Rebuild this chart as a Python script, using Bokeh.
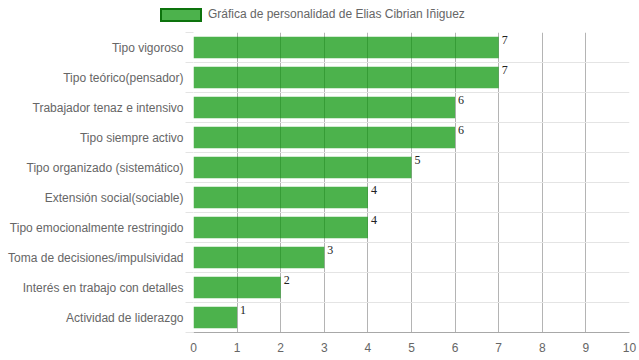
from bokeh.plotting import figure
from bokeh.layouts import column
from bokeh.models import FixedTicker, ColumnDataSource, Range1d, Div
from bokeh.core.properties import value
from bokeh.embed import file_html
from bokeh.resources import INLINE

categories = [
    "Tipo vigoroso",
    "Tipo teórico(pensador)",
    "Trabajador tenaz e intensivo",
    "Tipo siempre activo",
    "Tipo organizado (sistemático)",
    "Extensión social(sociable)",
    "Tipo emocionalmente restringido",
    "Toma de decisiones/impulsividad",
    "Interés en trabajo con detalles",
    "Actividad de liderazgo",
]
values = [7, 7, 6, 6, 5, 4, 4, 3, 2, 1]
series_name = "Gráfica de personalidad de Elias Cibrian Iñiguez"
x_ticks = [0, 1, 2, 3, 4, 5, 6, 7, 8, 9, 10]

BAR_FILL = "#009100"
BAR_ALPHA = 0.7

n = len(categories)
ypos = [n - 0.5 - i for i in range(n)]
source = ColumnDataSource(dict(cat=categories, val=values, y=ypos,
                               ytop=[v + 0.36 for v in ypos],
                               lab=[str(v) for v in values]))

# ---- legend strip (HTML) ----
legend_html = (
    '<div style="position:relative;width:639px;height:32px;'
    "font-family:'Liberation Sans',Arial,sans-serif;font-size:12px;color:#666;\">"
    '<span style="position:absolute;left:160px;top:8px;width:42px;height:14px;'
    'box-sizing:border-box;background:rgba(0,145,0,0.7);border:2px solid #0d730d;"></span>'
    '<span style="position:absolute;left:208px;top:7px;line-height:15px;white-space:nowrap;">'
    + series_name + '</span></div>'
)
legend_div = Div(text=legend_html, width=639, height=32, margin=(0, 0, 0, 0))

# ---- main chart ----
p = figure(width=639, height=328, output_backend="svg", toolbar_location=None,
           x_range=Range1d(0, 10), y_range=Range1d(0, n),
           min_border_left=193, min_border_right=10, min_border_top=0,
           min_border_bottom=28)
p.outline_line_color = None
p.background_fill_color = "white"

p.hbar(y="y", right="val", left=0, height=0.72, source=source,
       fill_color=BAR_FILL, fill_alpha=BAR_ALPHA, line_color=None)

p.text(x="val", y="ytop", text="lab", source=source, x_offset=3, y_offset=-1,
       text_baseline="top", text_align="left", text_font=value("Liberation Serif"),
       text_font_size="12px", text_color="#222")

p.xaxis.ticker = FixedTicker(ticks=x_ticks)
p.xaxis.major_tick_out = 0
p.xaxis.major_tick_in = 0
p.xaxis.minor_tick_line_color = None
p.xaxis.axis_line_color = "#a8a8a8"
p.xaxis.major_label_text_font = "Liberation Sans"
p.xaxis.major_label_text_font_size = "12px"
p.xaxis.major_label_text_color = "#666"
p.xaxis.major_label_standoff = 10

p.yaxis.ticker = FixedTicker(ticks=ypos, minor_ticks=list(range(n + 1)))
p.yaxis.major_label_overrides = {float(y): c for y, c in zip(ypos, categories)}
p.yaxis.major_tick_out = 0
p.yaxis.major_tick_in = 0
p.yaxis.major_tick_line_color = None
p.yaxis.minor_tick_out = 8
p.yaxis.minor_tick_in = 0
p.yaxis.minor_tick_line_color = "#e4e4e4"
p.yaxis.axis_line_color = None
p.yaxis.major_label_text_font = "Liberation Sans"
p.yaxis.major_label_text_font_size = "12px"
p.yaxis.major_label_text_color = "#666"
p.yaxis.major_label_standoff = 2

p.xgrid.ticker = FixedTicker(ticks=x_ticks)
p.xgrid.grid_line_color = "#b4b4b4"
p.ygrid.ticker = FixedTicker(ticks=list(range(n + 1)))
p.ygrid.grid_line_color = "#e4e4e4"

layout = column(legend_div, p, spacing=0)
open("out.html", "w").write(file_html(layout, INLINE))
